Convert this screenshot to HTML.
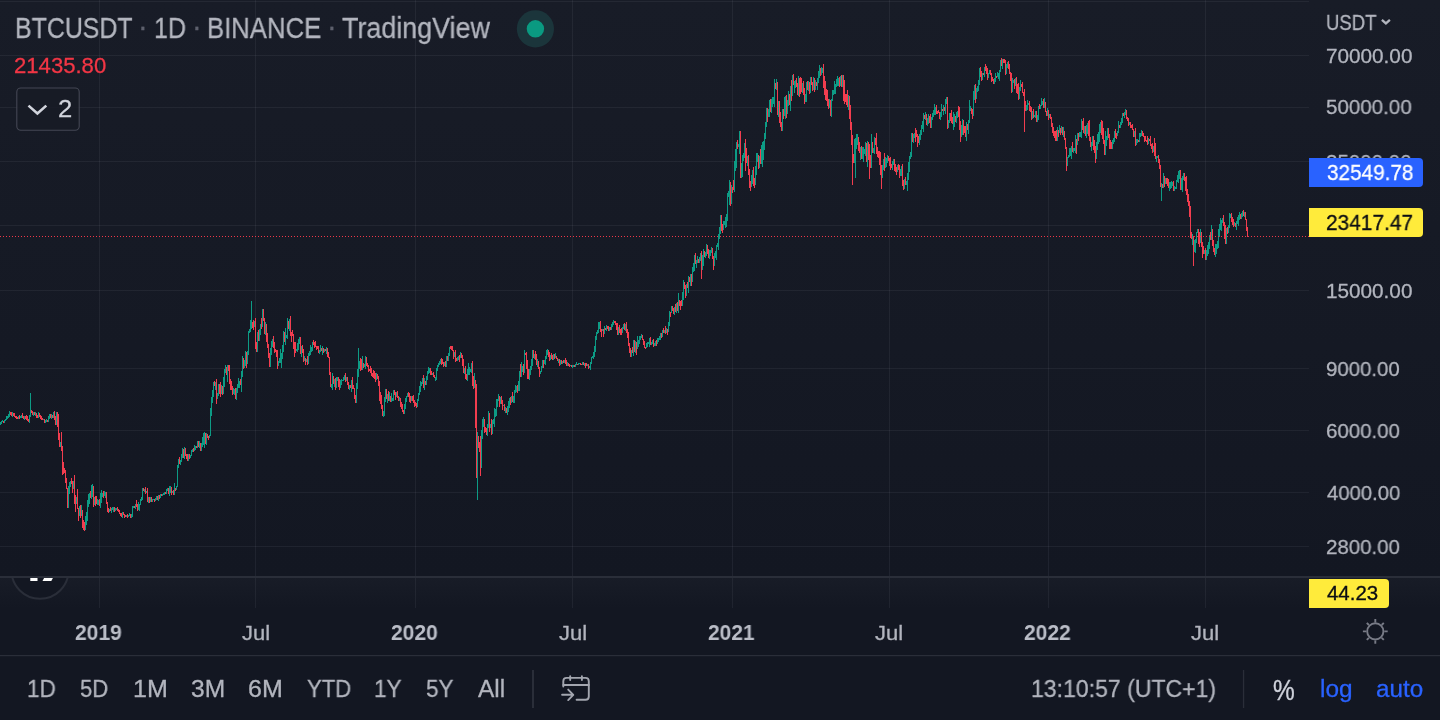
<!DOCTYPE html>
<html lang="en">
<head>
<meta charset="utf-8">
<title>BTCUSDT · 1D · BINANCE · TradingView</title>
<style>
html,body{margin:0;padding:0;background:#131722;}
body{width:1440px;height:720px;overflow:hidden;position:relative;font-family:"Liberation Sans",sans-serif;}
#chart{position:absolute;left:0;top:0;width:1440px;height:720px;display:block;}
.t{position:absolute;white-space:nowrap;line-height:1;transform-origin:0 50%;display:inline-block;z-index:1;will-change:transform;-webkit-text-stroke:0.3px currentColor;}
.z2{z-index:3;}
.b{font-weight:700;-webkit-text-stroke:0;}
.lbl{position:absolute;z-index:2;border-radius:0 4px 4px 0;}
</style>
</head>
<body>
<svg id="chart" width="1440" height="720" viewBox="0 0 1440 720">
<defs>
<linearGradient id="g1" x1="0" y1="0" x2="0" y2="1"><stop offset="0" stop-color="#181c27"/><stop offset="1" stop-color="#131722"/></linearGradient>
<clipPath id="cp1"><rect x="0" y="0" width="1309" height="577"/></clipPath>
<clipPath id="cp2"><rect x="0" y="578.1" width="1309" height="30"/></clipPath>
</defs>
<rect x="0" y="0" width="1440" height="720" fill="#131722"/>
<rect x="0" y="0" width="1440" height="577" fill="url(#g1)"/>
<rect x="0" y="577" width="1440" height="31" fill="url(#g1)"/>
<g fill="#f0f3fa" fill-opacity="0.06" shape-rendering="crispEdges"><rect x="99" y="0" width="1" height="608"/><rect x="255" y="0" width="1" height="608"/><rect x="415" y="0" width="1" height="608"/><rect x="572" y="0" width="1" height="608"/><rect x="732" y="0" width="1" height="608"/><rect x="889" y="0" width="1" height="608"/><rect x="1048" y="0" width="1" height="608"/><rect x="1205" y="0" width="1" height="608"/><rect x="0" y="1" width="1309" height="1"/><rect x="0" y="55" width="1309" height="1"/><rect x="0" y="107" width="1309" height="1"/><rect x="0" y="161" width="1309" height="1"/><rect x="0" y="225" width="1309" height="1"/><rect x="0" y="290" width="1309" height="1"/><rect x="0" y="368" width="1309" height="1"/><rect x="0" y="430" width="1309" height="1"/><rect x="0" y="492" width="1309" height="1"/><rect x="0" y="546" width="1309" height="1"/></g>
<g clip-path="url(#cp1)">
<path d="M0.5 422V425M1.5 421V424M2.5 420V422M4.5 420V423M5.5 419V421M6.5 416V420M7.5 416V419M8.5 414V418M9.5 411V417M12.5 412V417M18.5 416V419M20.5 416V418M21.5 415V418M24.5 416V420M29.5 415V423M30.5 393V417M33.5 412V416M35.5 412V416M38.5 412V418M43.5 419V420M45.5 420V423M46.5 419V422M48.5 416V422M49.5 414V419M51.5 414V419M53.5 412V418M56.5 412V425M60.5 442V447M68.5 486V508M69.5 482V494M70.5 481V487M73.5 481V489M76.5 497V504M79.5 506V516M81.5 505V516M85.5 516V530M86.5 512V525M87.5 500V521M88.5 494V507M89.5 493V504M91.5 485V499M92.5 484V497M94.5 497V505M97.5 499V505M98.5 500V505M100.5 493V508M101.5 490V503M102.5 493V497M104.5 491V496M105.5 492V498M109.5 509V512M111.5 508V513M112.5 507V510M113.5 507V512M115.5 508V511M116.5 508V510M122.5 512V518M126.5 515V517M128.5 515V517M129.5 513V516M131.5 514V518M132.5 506V517M133.5 506V508M135.5 504V509M138.5 502V510M139.5 504V511M140.5 499V505M141.5 497V501M142.5 488V500M144.5 489V492M146.5 491V493M148.5 497V503M150.5 497V502M152.5 499V502M153.5 499V500M155.5 498V501M156.5 496V500M158.5 495V501M160.5 494V498M162.5 494V496M163.5 493V495M164.5 492V495M166.5 489V494M167.5 488V491M169.5 486V496M170.5 486V493M172.5 491V493M174.5 483V495M176.5 486V490M177.5 465V487M178.5 459V468M180.5 460V465M181.5 454V462M182.5 448V458M184.5 447V459M188.5 454V461M190.5 455V458M191.5 450V456M192.5 449V452M194.5 445V451M195.5 446V450M197.5 441V448M199.5 441V448M201.5 443V451M202.5 437V447M203.5 433V445M204.5 432V448M206.5 433V445M209.5 435V438M210.5 408V436M211.5 397V416M212.5 390V403M213.5 382V397M215.5 382V390M217.5 393V399M218.5 384V396M221.5 385V394M223.5 377V394M224.5 369V387M225.5 365V373M227.5 365V382M233.5 388V394M234.5 389V395M236.5 388V400M237.5 384V393M238.5 378V388M239.5 381V388M241.5 371V392M242.5 356V377M244.5 360V368M245.5 351V366M247.5 351V364M248.5 331V355M249.5 329V333M250.5 320V332M251.5 301V329M254.5 321V327M257.5 332V352M259.5 329V341M260.5 324V335M262.5 309V327M265.5 322V335M270.5 348V367M271.5 341V355M272.5 339V347M278.5 361V366M279.5 358V363M280.5 349V363M281.5 353V368M282.5 345V359M283.5 331V352M285.5 328V345M286.5 335V338M287.5 318V339M289.5 319V331M296.5 349V351M297.5 343V352M298.5 339V350M299.5 337V344M301.5 346V357M304.5 356V361M306.5 359V362M308.5 353V364M309.5 351V356M310.5 345V355M311.5 347V352M312.5 342V351M319.5 350V354M320.5 345V352M322.5 346V355M324.5 349V352M326.5 347V354M331.5 384V388M332.5 373V390M334.5 379V387M336.5 377V388M337.5 377V381M340.5 380V388M341.5 379V385M342.5 380V381M343.5 377V381M344.5 375V380M346.5 377V381M349.5 385V390M351.5 380V392M356.5 383V403M357.5 369V389M358.5 348V377M359.5 361V369M362.5 356V370M364.5 364V367M365.5 356V369M376.5 373V380M383.5 411V417M384.5 397V416M385.5 389V402M387.5 394V403M389.5 392V401M391.5 393V402M392.5 398V401M393.5 390V401M396.5 392V397M399.5 397V401M404.5 404V414M405.5 398V409M406.5 396V402M407.5 393V397M411.5 396V401M417.5 399V407M418.5 393V401M419.5 386V395M420.5 381V392M421.5 382V386M422.5 378V384M424.5 378V390M426.5 376V385M427.5 371V380M428.5 367V374M429.5 368V373M432.5 373V375M435.5 377V381M436.5 368V380M437.5 365V371M438.5 363V367M439.5 361V365M440.5 359V364M444.5 362V366M446.5 356V367M448.5 353V361M449.5 347V356M454.5 352V357M457.5 357V361M458.5 356V360M460.5 352V358M464.5 368V374M467.5 369V381M468.5 363V375M469.5 367V375M470.5 369V372M471.5 363V373M474.5 373V388M477.5 432V500M481.5 430V468M482.5 419V439M483.5 417V427M487.5 424V436M488.5 411V428M490.5 424V428M492.5 420V434M493.5 419V424M494.5 408V427M495.5 409V417M496.5 399V416M497.5 399V407M498.5 394V401M500.5 397V404M503.5 405V406M505.5 407V413M507.5 406V415M508.5 401V412M509.5 398V408M511.5 396V403M513.5 396V403M514.5 390V403M515.5 385V393M516.5 386V392M518.5 381V391M519.5 371V391M521.5 362V377M522.5 366V372M524.5 350V373M529.5 369V380M530.5 366V375M531.5 359V370M532.5 350V366M534.5 354V359M537.5 359V367M540.5 371V374M541.5 366V372M542.5 360V368M544.5 360V364M545.5 356V365M546.5 350V359M547.5 349V355M550.5 355V360M553.5 354V360M555.5 353V358M558.5 359V363M560.5 360V365M562.5 361V364M564.5 360V363M567.5 362V366M570.5 365V366M572.5 365V368M573.5 365V367M575.5 364V367M576.5 362V365M578.5 363V365M579.5 363V364M582.5 362V365M584.5 363V366M587.5 364V366M589.5 366V368M590.5 362V370M591.5 357V364M592.5 356V358M593.5 352V359M594.5 346V357M595.5 336V352M596.5 332V340M597.5 330V334M598.5 322V333M599.5 322V329M602.5 329V331M604.5 326V334M606.5 325V331M609.5 327V331M611.5 324V330M612.5 322V327M613.5 320V325M618.5 327V335M622.5 327V333M623.5 324V329M625.5 324V331M631.5 350V357M633.5 340V356M635.5 341V353M637.5 336V349M638.5 340V347M639.5 336V344M640.5 336V340M641.5 334V338M646.5 343V348M647.5 342V347M648.5 342V344M649.5 338V347M651.5 342V345M652.5 340V344M654.5 343V346M655.5 341V346M657.5 338V344M658.5 338V342M659.5 336V340M660.5 333V340M662.5 330V337M664.5 330V333M666.5 328V333M668.5 322V332M669.5 311V326M671.5 306V313M674.5 307V315M676.5 303V313M678.5 293V313M682.5 292V306M683.5 280V300M686.5 284V296M688.5 276V293M690.5 274V286M692.5 267V282M693.5 263V272M694.5 255V271M696.5 260V268M697.5 256V263M699.5 257V263M700.5 253V261M702.5 255V270M703.5 249V266M705.5 252V258M706.5 244V256M709.5 250V259M710.5 250V256M711.5 247V253M714.5 253V266M715.5 251V258M716.5 245V260M717.5 243V247M718.5 234V250M719.5 227V239M720.5 215V234M723.5 221V230M724.5 221V225M725.5 217V228M726.5 214V227M727.5 193V221M728.5 191V197M729.5 180V205M731.5 185V204M734.5 161V192M735.5 149V171M736.5 142V168M738.5 144V147M739.5 131V154M741.5 163V178M742.5 155V177M743.5 153V161M744.5 143V158M747.5 156V166M751.5 175V187M752.5 170V184M755.5 166V185M756.5 153V175M757.5 153V162M759.5 156V168M761.5 145V164M762.5 142V167M763.5 141V160M764.5 133V150M765.5 122V139M766.5 108V127M768.5 109V117M769.5 100V117M771.5 99V113M772.5 97V107M773.5 97V104M774.5 79V107M776.5 79V90M778.5 101V117M782.5 109V131M784.5 97V116M785.5 96V119M787.5 100V114M788.5 91V106M790.5 86V111M792.5 75V96M794.5 81V93M795.5 80V88M798.5 76V96M802.5 83V93M805.5 94V102M806.5 82V102M808.5 81V91M810.5 77V93M813.5 77V90M815.5 80V90M817.5 78V90M818.5 71V83M819.5 65V78M821.5 67V75M822.5 68V73M829.5 99V108M831.5 99V117M832.5 90V101M833.5 90V95M834.5 81V94M835.5 84V94M836.5 79V87M837.5 76V86M838.5 78V86M840.5 76V86M842.5 75V87M848.5 95V110M854.5 139V163M855.5 138V178M856.5 134V149M857.5 134V145M860.5 147V160M862.5 147V159M863.5 147V162M864.5 149V154M865.5 142V156M867.5 141V167M871.5 134V168M873.5 148V153M874.5 137V154M882.5 165V178M883.5 159V170M885.5 157V168M886.5 158V167M887.5 155V163M892.5 161V170M893.5 159V165M897.5 165V172M900.5 169V176M901.5 166V176M904.5 179V189M906.5 181V185M907.5 173V191M908.5 162V180M909.5 156V172M910.5 152V159M911.5 133V157M913.5 134V143M914.5 133V138M919.5 134V145M920.5 130V140M921.5 125V135M922.5 121V129M923.5 113V132M925.5 112V120M927.5 118V126M928.5 114V124M931.5 117V128M932.5 113V120M933.5 110V117M934.5 104V115M935.5 107V115M940.5 112V120M941.5 104V117M943.5 105V115M945.5 99V114M946.5 97V104M948.5 120V128M949.5 113V123M953.5 112V130M954.5 114V127M956.5 112V123M957.5 111V118M961.5 125V137M962.5 119V135M966.5 122V141M968.5 120V134M969.5 100V123M970.5 106V111M973.5 91V116M974.5 85V100M976.5 88V99M977.5 86V92M978.5 80V91M979.5 68V85M982.5 73V80M984.5 67V77M988.5 73V78M989.5 70V74M994.5 78V84M995.5 73V82M997.5 72V77M998.5 73V79M999.5 70V81M1000.5 60V72M1002.5 59V69M1006.5 64V74M1007.5 62V68M1012.5 78V92M1013.5 80V83M1015.5 78V86M1019.5 87V99M1020.5 80V91M1026.5 105V111M1027.5 100V110M1028.5 103V105M1032.5 111V119M1034.5 115V117M1035.5 111V118M1037.5 115V122M1038.5 106V120M1040.5 105V109M1041.5 98V106M1042.5 101V105M1044.5 98V108M1047.5 108V116M1049.5 114V118M1057.5 127V141M1059.5 125V133M1061.5 126V133M1063.5 127V137M1067.5 157V166M1068.5 155V158M1069.5 148V157M1070.5 148V156M1071.5 146V159M1073.5 148V153M1074.5 148V151M1075.5 135V153M1077.5 133V145M1079.5 132V137M1080.5 132V137M1081.5 119V138M1084.5 126V134M1086.5 125V138M1087.5 123V134M1091.5 142V151M1092.5 136V146M1096.5 142V159M1097.5 134V150M1098.5 132V144M1099.5 124V142M1100.5 122V133M1105.5 131V155M1106.5 136V146M1107.5 128V140M1112.5 140V149M1113.5 138V144M1114.5 131V142M1117.5 131V136M1118.5 121V133M1120.5 122V128M1121.5 118V125M1122.5 113V123M1124.5 112V118M1125.5 109V115M1129.5 122V125M1134.5 131V137M1136.5 139V145M1137.5 139V143M1139.5 133V142M1140.5 133V137M1141.5 130V136M1148.5 138V144M1153.5 146V152M1156.5 156V162M1157.5 156V158M1161.5 183V201M1163.5 173V188M1165.5 178V184M1169.5 182V191M1170.5 182V189M1171.5 181V188M1172.5 182V186M1174.5 186V191M1175.5 187V189M1176.5 180V189M1177.5 175V182M1178.5 171V183M1179.5 170V179M1181.5 178V190M1182.5 176V192M1183.5 173V180M1192.5 234V245M1194.5 240V252M1195.5 239V253M1196.5 232V243M1197.5 229V233M1200.5 229V243M1204.5 250V254M1206.5 250V260M1207.5 245V256M1208.5 242V254M1209.5 235V249M1211.5 225V240M1215.5 244V257M1216.5 244V254M1217.5 241V249M1218.5 229V248M1219.5 224V237M1220.5 218V230M1221.5 220V231M1222.5 218V223M1226.5 228V244M1228.5 225V233M1229.5 213V228M1230.5 214V218M1234.5 222V226M1236.5 221V230M1237.5 217V224M1238.5 215V226M1239.5 212V220M1241.5 213V219M1242.5 211V217M1244.5 212V217" stroke="#0d9b85" stroke-width="1" fill="none" shape-rendering="crispEdges"/><path d="M3.5 421V423M10.5 412V415M11.5 412V416M13.5 413V416M14.5 413V417M15.5 416V418M16.5 416V419M17.5 417V419M19.5 415V419M22.5 413V418M23.5 416V419M25.5 416V419M26.5 415V420M27.5 416V421M28.5 419V422M31.5 410V413M32.5 411V415M34.5 412V415M36.5 413V418M37.5 415V418M39.5 413V417M40.5 415V419M41.5 416V420M42.5 418V420M44.5 419V423M47.5 420V422M50.5 414V418M52.5 415V418M54.5 411V420M55.5 416V425M57.5 412V427M58.5 414V440M59.5 433V447M61.5 432V451M62.5 446V475M63.5 462V474M64.5 468V473M65.5 470V483M66.5 478V489M67.5 488V508M71.5 478V484M72.5 481V493M74.5 475V504M75.5 495V512M77.5 489V509M78.5 508V521M80.5 505V518M82.5 510V528M83.5 520V530M84.5 522V531M90.5 491V498M93.5 486V507M95.5 496V506M96.5 496V504M99.5 499V506M103.5 491V498M106.5 492V504M107.5 502V512M108.5 508V513M110.5 507V511M114.5 507V512M117.5 507V511M118.5 509V512M119.5 510V514M120.5 513V516M121.5 513V517M123.5 512V515M124.5 514V518M125.5 515V517M127.5 514V518M130.5 514V518M134.5 506V508M136.5 500V507M137.5 504V511M143.5 488V491M145.5 487V494M147.5 488V502M149.5 497V503M151.5 497V502M154.5 499V502M157.5 496V500M159.5 495V499M161.5 494V496M165.5 492V494M168.5 488V494M171.5 487V495M173.5 490V495M175.5 488V491M179.5 457V464M183.5 449V458M185.5 448V456M186.5 454V459M187.5 454V461M189.5 454V459M193.5 448V452M196.5 446V448M198.5 441V447M200.5 443V451M205.5 433V444M207.5 434V438M208.5 436V440M214.5 381V386M216.5 379V404M219.5 384V394M220.5 382V397M222.5 386V395M226.5 367V375M228.5 365V371M229.5 365V384M230.5 379V390M231.5 381V390M232.5 386V395M235.5 388V399M240.5 379V385M243.5 358V369M246.5 352V368M252.5 322V328M253.5 320V330M255.5 318V349M256.5 342V352M258.5 330V341M261.5 318V329M263.5 309V321M264.5 318V334M266.5 324V342M267.5 333V348M268.5 344V358M269.5 353V367M273.5 336V348M274.5 342V353M275.5 349V352M276.5 350V357M277.5 350V369M284.5 332V342M288.5 321V329M290.5 316V336M291.5 332V342M292.5 330V336M293.5 334V349M294.5 342V357M295.5 342V353M300.5 337V354M302.5 345V353M303.5 349V362M305.5 358V365M307.5 356V365M313.5 340V345M314.5 342V348M315.5 341V347M316.5 346V350M317.5 346V349M318.5 346V353M321.5 348V351M323.5 348V353M325.5 349V351M327.5 348V357M328.5 352V358M329.5 357V375M330.5 372V387M333.5 376V384M335.5 378V390M338.5 377V387M339.5 379V390M345.5 373V382M347.5 377V385M348.5 382V389M350.5 385V388M352.5 377V389M353.5 385V389M354.5 388V399M355.5 395V403M360.5 358V371M361.5 359V370M363.5 363V368M366.5 357V366M367.5 363V367M368.5 365V372M369.5 369V371M370.5 366V373M371.5 368V376M372.5 373V377M373.5 370V378M374.5 371V379M375.5 373V382M377.5 374V379M378.5 376V386M379.5 381V401M380.5 392V404M381.5 395V409M382.5 405V416M386.5 389V399M388.5 391V401M390.5 396V402M394.5 390V395M395.5 392V400M397.5 391V398M398.5 396V401M400.5 398V407M401.5 402V409M402.5 404V412M403.5 410V414M408.5 392V397M409.5 393V402M410.5 396V403M412.5 396V401M413.5 395V403M414.5 400V407M415.5 402V406M416.5 403V408M423.5 375V388M425.5 381V385M430.5 368V375M431.5 371V375M433.5 372V377M434.5 375V378M441.5 358V365M442.5 359V364M443.5 362V367M445.5 361V367M447.5 356V361M450.5 346V349M451.5 346V350M452.5 346V351M453.5 350V359M455.5 350V362M456.5 358V361M459.5 355V362M461.5 353V358M462.5 355V366M463.5 359V373M465.5 366V379M466.5 374V380M472.5 361V386M473.5 376V389M475.5 380V428M476.5 384V478M478.5 436V448M479.5 442V452M480.5 436V476M484.5 419V433M485.5 427V432M486.5 428V435M489.5 413V432M491.5 419V435M499.5 396V407M501.5 396V404M502.5 400V410M504.5 404V411M506.5 408V413M510.5 397V405M512.5 392V402M517.5 385V393M520.5 364V377M523.5 364V375M525.5 353V355M526.5 352V369M527.5 360V379M528.5 369V379M533.5 350V358M535.5 351V360M536.5 354V365M538.5 361V369M539.5 367V377M543.5 360V368M548.5 350V357M549.5 352V361M551.5 353V359M552.5 355V360M554.5 354V359M556.5 356V359M557.5 358V361M559.5 359V366M561.5 360V364M563.5 360V363M565.5 358V364M566.5 360V366M568.5 363V366M569.5 364V367M571.5 365V367M574.5 365V367M577.5 364V365M580.5 363V365M581.5 364V365M583.5 362V365M585.5 363V368M586.5 363V366M588.5 364V369M600.5 321V332M601.5 329V337M603.5 329V337M605.5 328V330M607.5 326V329M608.5 326V331M610.5 327V330M614.5 321V323M615.5 321V325M616.5 323V330M617.5 323V335M619.5 325V333M620.5 329V335M621.5 328V335M624.5 323V330M626.5 322V333M627.5 329V338M628.5 332V346M629.5 343V353M630.5 348V357M632.5 347V353M634.5 340V352M636.5 342V355M642.5 335V340M643.5 339V345M644.5 341V348M645.5 347V349M650.5 337V345M653.5 339V347M656.5 340V346M661.5 333V338M663.5 328V333M665.5 326V334M667.5 329V335M670.5 312V317M672.5 306V311M673.5 308V314M675.5 304V312M677.5 302V311M679.5 300V306M680.5 301V310M681.5 300V306M684.5 282V289M685.5 285V298M687.5 282V288M689.5 277V282M691.5 274V286M695.5 253V264M698.5 259V263M701.5 251V279M704.5 251V257M707.5 245V254M708.5 249V258M712.5 248V259M713.5 256V270M721.5 215V231M722.5 224V233M730.5 182V206M732.5 187V193M733.5 180V190M737.5 140V149M740.5 131V178M745.5 139V171M746.5 148V163M748.5 155V175M749.5 169V188M750.5 181V191M753.5 167V186M754.5 178V188M758.5 155V169M760.5 149V164M767.5 108V122M770.5 99V112M775.5 83V89M777.5 82V115M779.5 101V123M780.5 112V127M781.5 122V131M783.5 109V119M786.5 95V118M789.5 94V105M791.5 80V101M793.5 74V85M796.5 78V87M797.5 83V95M799.5 78V97M800.5 77V94M801.5 78V92M803.5 81V95M804.5 88V104M807.5 81V90M809.5 82V94M811.5 77V85M812.5 82V91M814.5 78V92M816.5 82V86M820.5 68V76M823.5 64V88M824.5 76V95M825.5 81V100M826.5 89V101M827.5 90V106M828.5 99V109M830.5 100V116M839.5 77V87M841.5 75V87M843.5 75V101M844.5 80V104M845.5 94V102M846.5 94V105M847.5 90V107M849.5 96V119M850.5 105V130M851.5 122V145M852.5 135V185M853.5 154V163M858.5 137V151M859.5 142V153M861.5 146V159M866.5 143V162M868.5 142V160M869.5 144V179M870.5 155V168M872.5 142V153M875.5 138V145M876.5 133V154M877.5 147V157M878.5 151V158M879.5 151V165M880.5 152V175M881.5 165V189M884.5 153V171M888.5 156V161M889.5 158V166M890.5 157V170M891.5 164V168M894.5 159V171M895.5 164V172M896.5 167V175M898.5 164V170M899.5 165V178M902.5 164V186M903.5 180V190M905.5 177V185M912.5 133V142M915.5 128V142M916.5 130V137M917.5 134V147M918.5 136V143M924.5 115V119M926.5 114V125M929.5 116V123M930.5 114V128M936.5 105V114M937.5 111V114M938.5 110V113M939.5 112V119M942.5 109V111M944.5 107V111M947.5 97V129M950.5 113V121M951.5 110V123M952.5 117V124M955.5 116V122M958.5 106V117M959.5 107V130M960.5 121V142M963.5 120V135M964.5 126V133M965.5 126V137M967.5 124V130M971.5 108V114M972.5 109V119M975.5 84V103M980.5 67V77M981.5 71V81M983.5 73V75M985.5 64V71M986.5 66V74M987.5 68V80M990.5 70V75M991.5 73V82M992.5 77V81M993.5 79V84M996.5 76V78M1001.5 58V66M1003.5 59V63M1004.5 59V63M1005.5 60V75M1008.5 61V69M1009.5 64V74M1010.5 72V81M1011.5 73V93M1014.5 79V89M1016.5 77V93M1017.5 84V94M1018.5 83V100M1021.5 84V87M1022.5 82V93M1023.5 92V96M1024.5 89V132M1025.5 101V111M1029.5 101V111M1030.5 106V112M1031.5 107V120M1033.5 109V118M1036.5 111V122M1039.5 104V109M1043.5 99V108M1045.5 102V112M1046.5 111V116M1048.5 110V120M1050.5 114V119M1051.5 117V127M1052.5 123V133M1053.5 127V136M1054.5 131V138M1055.5 131V141M1056.5 130V141M1058.5 130V137M1060.5 128V135M1062.5 127V135M1064.5 131V140M1065.5 138V149M1066.5 147V171M1072.5 142V152M1076.5 139V154M1078.5 133V141M1082.5 121V130M1083.5 118V133M1085.5 126V136M1088.5 121V136M1089.5 120V141M1090.5 137V147M1093.5 136V150M1094.5 140V153M1095.5 146V163M1101.5 120V135M1102.5 121V139M1103.5 128V144M1104.5 140V155M1108.5 128V138M1109.5 134V149M1110.5 140V149M1111.5 142V149M1115.5 129V138M1116.5 133V139M1119.5 125V128M1123.5 113V116M1126.5 110V119M1127.5 117V121M1128.5 118V126M1130.5 122V128M1131.5 125V128M1132.5 124V130M1133.5 129V137M1135.5 128V146M1138.5 140V142M1142.5 131V136M1143.5 133V137M1144.5 136V142M1145.5 136V141M1146.5 140V142M1147.5 136V145M1149.5 139V141M1150.5 136V146M1151.5 144V149M1152.5 143V153M1154.5 138V156M1155.5 143V159M1158.5 155V163M1159.5 159V169M1160.5 165V187M1162.5 184V188M1164.5 176V187M1166.5 178V184M1167.5 178V186M1168.5 179V188M1173.5 181V191M1180.5 170V190M1184.5 173V181M1185.5 177V191M1186.5 176V195M1187.5 189V202M1188.5 194V206M1189.5 201V217M1190.5 206V238M1191.5 232V239M1193.5 236V266M1198.5 229V244M1199.5 232V247M1201.5 232V247M1202.5 242V258M1203.5 246V254M1205.5 248V260M1210.5 232V240M1212.5 229V246M1213.5 240V252M1214.5 248V255M1223.5 215V226M1224.5 222V239M1225.5 225V244M1227.5 227V234M1231.5 213V222M1232.5 217V225M1233.5 219V227M1235.5 223V227M1240.5 214V219M1243.5 210V216M1245.5 212V220M1246.5 219V231M1247.5 227V237" stroke="#f23d4f" stroke-width="1" fill="none" shape-rendering="crispEdges"/>
<line x1="0" y1="236.5" x2="1309" y2="236.5" stroke="#ee3748" stroke-width="1" stroke-dasharray="1 2" shape-rendering="crispEdges"/>
</g>
<!-- pane separator -->
<rect x="0" y="576" width="1440" height="2" fill="#2a2e39"/>
<!-- tv logo button, clipped by pane 2 -->
<g clip-path="url(#cp2)">
<circle cx="40" cy="570.3" r="28.5" fill="#131722" stroke="#2a2e39" stroke-width="2"/>
<rect x="30.3" y="574" width="7.2" height="7" fill="#ffffff"/>
<path d="M46.2 574H55L51.3 581H42.5Z" fill="#ffffff"/>
</g>
<!-- time axis / toolbar border -->
<rect x="0" y="655" width="1440" height="1.2" fill="#2a2e39"/>
<!-- title status dot -->
<circle cx="535.4" cy="28.8" r="18.6" fill="#1b353b"/>
<circle cx="535.4" cy="28.8" r="8.7" fill="#0a9a81"/>

<!-- legend collapse button -->
<rect x="16.8" y="88" width="62.4" height="42.2" rx="4" ry="4" fill="#171b26" fill-opacity="0.85" stroke="#444754" stroke-width="1.1"/>
<path d="M28.5 105.6L37.4 113.5L46.3 105.6" fill="none" stroke="#d1d4dc" stroke-width="2.6" stroke-linecap="butt" stroke-linejoin="miter"/>
<!-- currency chevron -->
<path d="M1381.9 19.8L1385.9 23.4L1389.9 19.8" fill="none" stroke="#b2b5be" stroke-width="2.3" stroke-linecap="butt" stroke-linejoin="miter"/>
<!-- toolbar separators -->
<rect x="532" y="670" width="2" height="38" fill="#2a2e39"/>
<rect x="1242.9" y="670" width="1.3" height="38" fill="#2a2e39"/>
<!-- go to date icon -->
<g fill="none" stroke="#a3a6af" stroke-width="1.9" stroke-linecap="round" stroke-linejoin="round">
<path d="M563.3 686.6V681.2Q563.3 677.9 566.6 677.9H585.5Q588.8 677.9 588.8 681.2V696.5Q588.8 699.8 585.5 699.8H576.6"/>
<path d="M563.3 685H588.8"/>
<path d="M570.2 676.2V680M581.9 676.2V680"/>
<path d="M562.1 694.8H573.2M568.2 689.6L573.3 694.8L568.2 700.1"/>
</g>
<!-- settings gear -->
<g fill="none" stroke="#787b86" stroke-width="1.9">
<circle cx="1375.3" cy="631.4" r="8.1"/>
<path d="M1384.3 631.4L1387.7 631.4M1381.7 637.8L1383.8 639.9M1375.3 640.4L1375.3 643.8M1368.9 637.8L1366.8 639.9M1366.3 631.4L1362.9 631.4M1368.9 625.0L1366.8 622.9M1375.3 622.4L1375.3 619.0M1381.7 625.0L1383.8 622.9"/>
</g>
</svg>
<div class="lbl" style="left:1309px;top:157.8px;width:114px;height:29.2px;background:#2962ff"></div>
<div class="lbl" style="left:1309px;top:207.8px;width:114px;height:29.2px;background:#ffeb3b"></div>
<div class="lbl" style="left:1309px;top:578.9px;width:80px;height:29px;background:#ffeb3b"></div>
<div class="legend">
<span class="t" style="left:15.41px;top:13.71px;font-size:28.70px;color:#b2b5be;transform:scaleX(0.8679)">BTCUSDT</span>
<span class="t" style="left:153.85px;top:13.71px;font-size:28.70px;color:#b2b5be;transform:scaleX(0.8726)">1D</span>
<span class="t" style="left:206.74px;top:13.71px;font-size:28.70px;color:#b2b5be;transform:scaleX(0.8953)">BINANCE</span>
<span class="t" style="left:342.46px;top:13.71px;font-size:28.70px;color:#b2b5be;transform:scaleX(0.9368)">TradingView</span>
<span class="t" style="left:14.19px;top:54.90px;font-size:21.74px;color:#f23645;transform:scaleX(1.0169)">21435.80</span>
<span class="t" style="left:57.72px;top:97.11px;font-size:24.20px;color:#d1d4dc;transform:scaleX(1.0599)">2</span>
<span class="t" style="left:138.12px;top:12.33px;font-size:29.0px;color:#5d606c">·</span>
<span class="t" style="left:191.51px;top:12.33px;font-size:29.0px;color:#5d606c">·</span>
<span class="t" style="left:326.51px;top:12.33px;font-size:29.0px;color:#5d606c">·</span>
</div>
<div class="price-axis">
<span class="t" style="left:1325.70px;top:12.32px;font-size:21.59px;color:#b2b5be;transform:scaleX(0.8588)">USDT</span>
<span class="t" style="left:1325.97px;top:45.81px;font-size:20.72px;color:#b2b5be;transform:scaleX(0.9946)">70000.00</span>
<span class="t" style="left:1326.18px;top:96.51px;font-size:20.72px;color:#b2b5be;transform:scaleX(0.9922)">50000.00</span>
<span class="t" style="left:1326.38px;top:151.71px;font-size:20.72px;color:#b2b5be;transform:scaleX(0.9898)">35000.00</span>
<span class="t" style="left:1325.97px;top:215.81px;font-size:20.72px;color:#b2b5be;transform:scaleX(0.9946)">23000.00</span>
<span class="t" style="left:1325.55px;top:281.01px;font-size:20.72px;color:#b2b5be;transform:scaleX(0.9995)">15000.00</span>
<span class="t" style="left:1326.18px;top:359.01px;font-size:20.72px;color:#b2b5be;transform:scaleX(0.9859)">9000.00</span>
<span class="t" style="left:1325.98px;top:421.01px;font-size:20.72px;color:#b2b5be;transform:scaleX(0.9887)">6000.00</span>
<span class="t" style="left:1326.59px;top:483.01px;font-size:20.72px;color:#b2b5be;transform:scaleX(0.9803)">4000.00</span>
<span class="t" style="left:1325.98px;top:536.91px;font-size:20.72px;color:#b2b5be;transform:scaleX(0.9887)">2800.00</span>
<span class="t z2" style="left:1326.88px;top:162.57px;font-size:21.30px;color:#ffffff;transform:scaleX(0.9720)">32549.78</span>
<span class="t z2" style="left:1326.46px;top:212.87px;font-size:21.30px;color:#0b0d14;transform:scaleX(0.9792)">23417.47</span>
<span class="t z2" style="left:1327.09px;top:583.37px;font-size:20.00px;color:#0b0d14;transform:scaleX(1.0220)">44.23</span>
</div>
<div class="time-axis">
<span class="t b" style="left:74.77px;top:622.30px;font-size:21.74px;color:#babdc7;transform:scaleX(0.9675)">2019</span>
<span class="t" style="left:242.03px;top:623.03px;font-size:20.87px;color:#b2b5be;transform:scaleX(1.0528)">Jul</span>
<span class="t b" style="left:391.37px;top:622.30px;font-size:21.74px;color:#babdc7;transform:scaleX(0.9675)">2020</span>
<span class="t" style="left:558.83px;top:623.03px;font-size:20.87px;color:#b2b5be;transform:scaleX(1.0528)">Jul</span>
<span class="t b" style="left:707.57px;top:622.30px;font-size:21.74px;color:#babdc7;transform:scaleX(0.9631)">2021</span>
<span class="t" style="left:874.93px;top:623.03px;font-size:20.87px;color:#b2b5be;transform:scaleX(1.0528)">Jul</span>
<span class="t b" style="left:1024.47px;top:622.30px;font-size:21.74px;color:#babdc7;transform:scaleX(0.9675)">2022</span>
<span class="t" style="left:1191.43px;top:623.03px;font-size:20.87px;color:#b2b5be;transform:scaleX(1.0528)">Jul</span>
</div>
<div class="toolbar">
<span class="t" style="left:26.92px;top:677.36px;font-size:23.91px;color:#b2b5be;transform:scaleX(0.9431)">1D</span>
<span class="t" style="left:80.42px;top:677.36px;font-size:23.91px;color:#b2b5be;transform:scaleX(0.9230)">5D</span>
<span class="t" style="left:132.65px;top:677.36px;font-size:23.91px;color:#b2b5be;transform:scaleX(1.0470)">1M</span>
<span class="t" style="left:190.96px;top:677.36px;font-size:23.91px;color:#b2b5be;transform:scaleX(1.0274)">3M</span>
<span class="t" style="left:248.35px;top:677.36px;font-size:23.91px;color:#b2b5be;transform:scaleX(1.0470)">6M</span>
<span class="t" style="left:306.76px;top:677.36px;font-size:23.91px;color:#b2b5be;transform:scaleX(0.9236)">YTD</span>
<span class="t" style="left:374.42px;top:677.36px;font-size:23.91px;color:#b2b5be;transform:scaleX(0.9423)">1Y</span>
<span class="t" style="left:426.10px;top:677.36px;font-size:23.91px;color:#b2b5be;transform:scaleX(0.9395)">5Y</span>
<span class="t" style="left:478.00px;top:677.36px;font-size:23.91px;color:#b2b5be;transform:scaleX(1.0204)">All</span>
<span class="t" style="left:1030.59px;top:677.36px;font-size:23.91px;color:#b2b5be;transform:scaleX(0.9639)">13:10:57 (UTC+1)</span>
<span class="t" style="left:1272.67px;top:677.96px;font-size:23.91px;color:#ced1da;transform:scale(1.0228,1.2)">%</span>
<span class="t" style="left:1319.84px;top:677.36px;font-size:23.91px;color:#2962ff;transform:scaleX(1.0194)">log</span>
<span class="t" style="left:1375.73px;top:677.36px;font-size:23.91px;color:#2962ff;transform:scaleX(1.0130)">auto</span>
</div>
</body>
</html>
